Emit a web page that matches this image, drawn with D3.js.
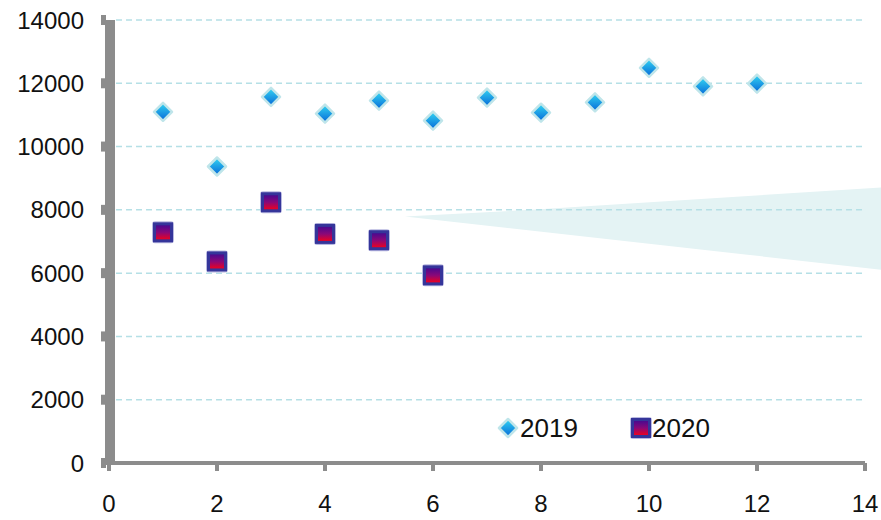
<!DOCTYPE html>
<html><head><meta charset="utf-8">
<script src="https://cdn.jsdelivr.net/npm/d3@7"></script>
<style>html,body{margin:0;padding:0;background:#fff;}svg{display:block;font-family:"Liberation Sans",Arial,sans-serif;}</style>
</head><body>
<svg id="c" width="881" height="520"></svg>
<script>
const months = [1,2,3,4,5,6,7,8,9,10,11,12];
const values2019 = [11100,9370,11570,11040,11450,10820,11550,11070,11400,12490,11900,11990];
const months2020 = [1,2,3,4,5,6];
const values2020 = [7290,6370,8240,7240,7040,5930];
const xTicks = [0,2,4,6,8,10,12,14];
const yTicks = [0,2000,4000,6000,8000,10000,12000,14000];
const seriesNames = ["2019","2020"];
// background wedge (data units)
const wedge = [[5.48,7790],[7.9,8010],[14.4,8720],[14.4,6090]];

const svg = d3.select("#c");
const x = d3.scaleLinear().domain([0,14]).range([109,865]);
const y = d3.scaleLinear().domain([0,14000]).range([463,20]);

const defs = svg.append("defs");
const gd = defs.append("linearGradient").attr("id","gDia").attr("x1",0).attr("y1",0).attr("x2",0).attr("y2",1);
gd.append("stop").attr("offset","0%").attr("stop-color","#33d6f2");
gd.append("stop").attr("offset","100%").attr("stop-color","#0668d8");
const gs = defs.append("linearGradient").attr("id","gSq").attr("x1",0).attr("y1",0).attr("x2",0).attr("y2",1);
gs.append("stop").attr("offset","0%").attr("stop-color","#3d0a94");
gs.append("stop").attr("offset","50%").attr("stop-color","#8a0878");
gs.append("stop").attr("offset","100%").attr("stop-color","#ff0010");

// wedge
svg.append("path")
  .attr("d", d3.line().x(d=>x(d[0])).y(d=>y(d[1])).curve(d3.curveLinearClosed)(wedge))
  .attr("fill","#e4f3f4");

// gridlines
svg.append("g").selectAll("line").data(yTicks.filter(t=>t>0)).join("line")
  .attr("x1",116).attr("x2",x(14)-3)
  .attr("y1",d=>y(d)).attr("y2",d=>y(d))
  .attr("stroke","#b5e0e6").attr("stroke-width",1.5).attr("stroke-dasharray","6,4");

const gray = "#8c8c8c";
// y axis bar
svg.append("rect").attr("x",105).attr("y",y(14000)).attr("width",10).attr("height",y(0)-y(14000)+2).attr("fill",gray);
// y ticks stubs
svg.append("g").selectAll("rect").data(yTicks).join("rect")
  .attr("x",101).attr("y",d=>y(d)-5).attr("width",5).attr("height",10).attr("fill",gray);
// x axis line
svg.append("rect").attr("x",109).attr("y",y(0)-2).attr("width",x(14)-109).attr("height",4).attr("fill",gray);
// x tick stubs
svg.append("g").selectAll("rect").data(xTicks).join("rect")
  .attr("x",d=>x(d)-2).attr("y",y(0)).attr("width",4).attr("height",8).attr("fill",gray);

// y labels
svg.append("g").selectAll("text").data(yTicks).join("text")
  .attr("x",84).attr("y",d=>y(d)).attr("dy","0.36em").attr("text-anchor","end")
  .attr("font-size",24).attr("fill","#111").text(d=>d);
// x labels
svg.append("g").selectAll("text").data(xTicks).join("text")
  .attr("x",d=>x(d)).attr("y",512).attr("text-anchor","middle")
  .attr("font-size",24).attr("fill","#111").text(d=>d);

const diamondPath = "M0,-9 L9,0 L0,9 L-9,0Z";
function drawDiamond(g){
  g.append("path").attr("d",diamondPath).attr("fill","url(#gDia)").attr("stroke","#bfe5ea").attr("stroke-width",2.5).attr("stroke-linejoin","round");
}
function drawSquare(g){
  g.append("rect").attr("x",-10).attr("y",-10).attr("width",20).attr("height",20).attr("rx",2).attr("fill","none").attr("stroke","#b8b8e0").attr("stroke-width",2);
  g.append("rect").attr("x",-8.5).attr("y",-8.5).attr("width",17).attr("height",17).attr("fill","url(#gSq)").attr("stroke","#35359a").attr("stroke-width",3);
}

// 2019
svg.append("g").selectAll("g").data(months.map((m,i)=>[m,values2019[i]])).join("g")
  .attr("transform",d=>`translate(${x(d[0])},${y(d[1])})`).each(function(){drawDiamond(d3.select(this));});
// 2020
svg.append("g").selectAll("g").data(months2020.map((m,i)=>[m,values2020[i]])).join("g")
  .attr("transform",d=>`translate(${x(d[0])},${y(d[1])})`).each(function(){drawSquare(d3.select(this));});

// legend
const lg = svg.append("g");
const l1 = lg.append("g").attr("transform","translate(508,428)"); drawDiamond(l1);
lg.append("text").attr("x",520).attr("y",437).attr("font-size",26).attr("fill","#111").text(seriesNames[0]);
const l2 = lg.append("g").attr("transform","translate(641,428)"); drawSquare(l2);
lg.append("text").attr("x",652).attr("y",437).attr("font-size",26).attr("fill","#111").text(seriesNames[1]);
</script>
</body></html>
